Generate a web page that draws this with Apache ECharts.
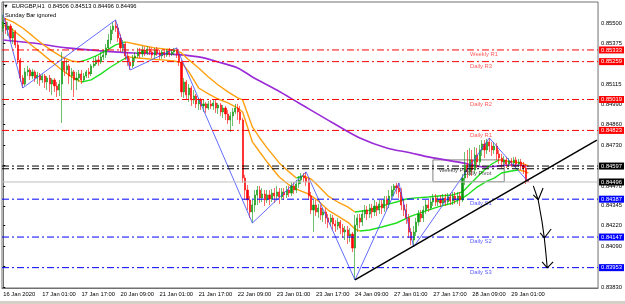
<!DOCTYPE html>
<html>
<head>
<meta charset="utf-8">
<script src="https://cdn.jsdelivr.net/npm/echarts@6.0.0/dist/echarts.min.js"></script>
<style>
  html, body { margin: 0; padding: 0; background: #fff; }
  #main { width: 625px; height: 304px; }
</style>
</head>
<body>
<div id="main"></div>
<script>
// EURGBP H1, 16 Jan 2020 09:00 .. 29 Jan 2020 08:00 (sunday bar ignored)
// one row per hour: [open, close, low, high]
const ohlc = [
  [0.85472,0.85511,0.85447,0.85555],[0.85511,0.85460,0.85434,0.85536],[0.85460,0.85485,0.85422,0.85511],[0.85485,0.85409,0.85384,0.85498],
  [0.85409,0.85447,0.85371,0.85472],[0.85447,0.85365,0.85346,0.85460],[0.85365,0.85270,0.85244,0.85384],[0.85270,0.85155,0.85130,0.85282],
  [0.85155,0.85117,0.85092,0.85174],[0.85117,0.85194,0.85105,0.85219],[0.85194,0.85206,0.85168,0.85232],[0.85206,0.85168,0.85143,0.85219],
  [0.85168,0.85194,0.85149,0.85213],[0.85194,0.85155,0.85130,0.85206],[0.85155,0.85174,0.85117,0.85194],[0.85174,0.85143,0.85105,0.85187],
  [0.85143,0.85168,0.85124,0.85181],[0.85168,0.85130,0.85092,0.85181],[0.85130,0.85155,0.85079,0.85168],[0.85155,0.85117,0.85067,0.85174],
  [0.85117,0.85143,0.85048,0.85155],[0.85143,0.85105,0.85067,0.85155],[0.85105,0.85079,0.85035,0.85130],[0.85079,0.85117,0.85041,0.85143],
  [0.85117,0.85257,0.84870,0.85320],[0.85257,0.85206,0.85168,0.85282],[0.85206,0.85232,0.85181,0.85270],[0.85232,0.85168,0.85117,0.85244],
  [0.85168,0.85194,0.85079,0.85219],[0.85194,0.85143,0.85035,0.85206],[0.85143,0.85155,0.85079,0.85194],[0.85155,0.85181,0.85130,0.85206],
  [0.85181,0.85143,0.85117,0.85206],[0.85143,0.85168,0.85130,0.85187],[0.85168,0.85194,0.85155,0.85206],[0.85194,0.85181,0.85155,0.85219],
  [0.85181,0.85232,0.85168,0.85244],[0.85232,0.85244,0.85219,0.85282],[0.85244,0.85270,0.85232,0.85295],[0.85270,0.85257,0.85232,0.85295],
  [0.85257,0.85289,0.85244,0.85320],[0.85289,0.85301,0.85270,0.85333],[0.85301,0.85346,0.85282,0.85371],[0.85346,0.85396,0.85333,0.85434],
  [0.85396,0.85460,0.85371,0.85485],[0.85460,0.85485,0.85434,0.85511],[0.85485,0.85472,0.85447,0.85523],[0.85472,0.85409,0.85384,0.85498],
  [0.85409,0.85346,0.85320,0.85434],[0.85346,0.85371,0.85320,0.85396],[0.85371,0.85295,0.85270,0.85384],[0.85295,0.85257,0.85232,0.85320],
  [0.85257,0.85232,0.85206,0.85282],[0.85232,0.85282,0.85219,0.85301],[0.85282,0.85295,0.85257,0.85320],[0.85295,0.85320,0.85282,0.85346],
  [0.85320,0.85308,0.85282,0.85346],[0.85308,0.85333,0.85289,0.85358],[0.85333,0.85314,0.85295,0.85352],[0.85314,0.85339,0.85301,0.85358],
  [0.85339,0.85320,0.85301,0.85352],[0.85320,0.85301,0.85282,0.85346],[0.85301,0.85333,0.85282,0.85346],[0.85333,0.85314,0.85295,0.85352],
  [0.85314,0.85295,0.85276,0.85333],[0.85295,0.85320,0.85276,0.85333],[0.85320,0.85301,0.85282,0.85339],[0.85301,0.85327,0.85289,0.85339],
  [0.85327,0.85308,0.85289,0.85346],[0.85308,0.85320,0.85295,0.85339],[0.85320,0.85333,0.85301,0.85346],[0.85333,0.85308,0.85282,0.85346],
  [0.85308,0.85257,0.85232,0.85320],[0.85257,0.85067,0.85035,0.85270],[0.85067,0.85130,0.85029,0.85155],[0.85130,0.85048,0.85016,0.85143],
  [0.85048,0.85092,0.85003,0.85117],[0.85092,0.85016,0.84978,0.85105],[0.85016,0.85041,0.84991,0.85079],[0.85041,0.84991,0.84965,0.85054],
  [0.84991,0.85016,0.84953,0.85029],[0.85016,0.84978,0.84953,0.85029],[0.84978,0.84991,0.84940,0.85016],[0.84991,0.84965,0.84934,0.85003],
  [0.84965,0.84991,0.84953,0.85010],[0.84991,0.84978,0.84959,0.85016],[0.84978,0.84997,0.84953,0.85016],[0.84997,0.84965,0.84934,0.85016],
  [0.84965,0.84984,0.84927,0.84997],[0.84984,0.84940,0.84915,0.84997],[0.84940,0.84965,0.84902,0.84984],[0.84965,0.84927,0.84889,0.84978],
  [0.84927,0.84889,0.84864,0.84953],[0.84889,0.84915,0.84813,0.84940],[0.84915,0.84940,0.84851,0.84965],[0.84940,0.84965,0.84927,0.84991],
  [0.84965,0.84940,0.84889,0.84991],[0.84940,0.84889,0.84864,0.84978],[0.84889,0.84521,0.84490,0.84902],[0.84521,0.84445,0.84382,0.84541],
  [0.84445,0.84382,0.84318,0.84477],[0.84382,0.84306,0.84268,0.84407],[0.84306,0.84350,0.84236,0.84382],[0.84350,0.84414,0.84306,0.84445],
  [0.84414,0.84445,0.84350,0.84471],[0.84445,0.84395,0.84363,0.84471],[0.84395,0.84420,0.84369,0.84458],[0.84420,0.84382,0.84344,0.84445],
  [0.84382,0.84414,0.84363,0.84445],[0.84414,0.84388,0.84350,0.84445],[0.84388,0.84426,0.84369,0.84452],[0.84426,0.84407,0.84363,0.84458],
  [0.84407,0.84433,0.84382,0.84471],[0.84433,0.84401,0.84357,0.84458],[0.84401,0.84433,0.84382,0.84458],[0.84433,0.84414,0.84382,0.84458],
  [0.84414,0.84445,0.84395,0.84471],[0.84445,0.84426,0.84401,0.84471],[0.84426,0.84471,0.84407,0.84496],[0.84471,0.84445,0.84420,0.84496],
  [0.84445,0.84483,0.84426,0.84509],[0.84483,0.84509,0.84458,0.84534],[0.84509,0.84534,0.84483,0.84553],[0.84534,0.84521,0.84496,0.84553],
  [0.84521,0.84496,0.84471,0.84560],[0.84496,0.84407,0.84382,0.84521],[0.84407,0.84318,0.84293,0.84433],[0.84318,0.84350,0.84179,0.84382],
  [0.84350,0.84306,0.84280,0.84382],[0.84306,0.84331,0.84268,0.84357],[0.84331,0.84287,0.84255,0.84350],[0.84287,0.84306,0.84242,0.84331],
  [0.84306,0.84268,0.84230,0.84331],[0.84268,0.84242,0.84204,0.84293],[0.84242,0.84268,0.84217,0.84293],[0.84268,0.84230,0.84192,0.84287],
  [0.84230,0.84217,0.84179,0.84255],[0.84217,0.84242,0.84192,0.84268],[0.84242,0.84204,0.84166,0.84255],[0.84204,0.84179,0.84141,0.84230],
  [0.84179,0.84192,0.84128,0.84217],[0.84192,0.84154,0.84103,0.84217],[0.84154,0.84166,0.84115,0.84204],[0.84166,0.84077,0.84052,0.84179],
  [0.84077,0.84223,0.83875,0.84287],[0.84223,0.84268,0.84179,0.84293],[0.84268,0.84242,0.84204,0.84293],[0.84242,0.84293,0.84217,0.84318],
  [0.84293,0.84318,0.84268,0.84350],[0.84318,0.84293,0.84255,0.84344],[0.84293,0.84331,0.84268,0.84357],[0.84331,0.84306,0.84268,0.84357],
  [0.84306,0.84344,0.84280,0.84382],[0.84344,0.84318,0.84280,0.84369],[0.84318,0.84357,0.84293,0.84382],[0.84357,0.84331,0.84293,0.84382],
  [0.84331,0.84382,0.84306,0.84407],[0.84382,0.84357,0.84318,0.84407],[0.84357,0.84407,0.84331,0.84445],[0.84407,0.84445,0.84382,0.84471],
  [0.84445,0.84471,0.84407,0.84483],[0.84471,0.84458,0.84420,0.84490],[0.84458,0.84433,0.84395,0.84490],[0.84433,0.84350,0.84318,0.84458],
  [0.84350,0.84318,0.84280,0.84382],[0.84318,0.84268,0.84230,0.84357],[0.84268,0.84179,0.84141,0.84293],[0.84179,0.84128,0.84096,0.84204],
  [0.84128,0.84179,0.84084,0.84217],[0.84179,0.84242,0.84154,0.84268],[0.84242,0.84293,0.84217,0.84318],[0.84293,0.84268,0.84242,0.84318],
  [0.84268,0.84318,0.84242,0.84344],[0.84318,0.84350,0.84293,0.84382],[0.84350,0.84331,0.84306,0.84382],[0.84331,0.84369,0.84318,0.84395],
  [0.84369,0.84395,0.84344,0.84420],[0.84395,0.84369,0.84344,0.84420],[0.84369,0.84388,0.84344,0.84407],[0.84388,0.84363,0.84338,0.84414],
  [0.84363,0.84395,0.84344,0.84420],[0.84395,0.84369,0.84344,0.84420],[0.84369,0.84401,0.84350,0.84426],[0.84401,0.84376,0.84350,0.84426],
  [0.84376,0.84407,0.84350,0.84433],[0.84407,0.84382,0.84357,0.84433],[0.84382,0.84407,0.84357,0.84433],[0.84407,0.84382,0.84344,0.84433],
  [0.84382,0.84521,0.84369,0.84547],[0.84521,0.84604,0.84477,0.84686],[0.84604,0.84560,0.84521,0.84699],[0.84560,0.84636,0.84534,0.84712],
  [0.84636,0.84572,0.84534,0.84699],[0.84572,0.84667,0.84547,0.84718],[0.84667,0.84623,0.84585,0.84712],[0.84623,0.84699,0.84598,0.84731],
  [0.84699,0.84737,0.84661,0.84762],[0.84737,0.84699,0.84648,0.84762],[0.84699,0.84750,0.84674,0.84769],[0.84750,0.84724,0.84686,0.84775],
  [0.84724,0.84699,0.84661,0.84750],[0.84699,0.84724,0.84674,0.84750],[0.84724,0.84674,0.84636,0.84743],[0.84674,0.84648,0.84610,0.84699],
  [0.84648,0.84623,0.84585,0.84674],[0.84623,0.84636,0.84598,0.84661],[0.84636,0.84610,0.84585,0.84655],[0.84610,0.84629,0.84591,0.84648],
  [0.84629,0.84617,0.84591,0.84648],[0.84617,0.84636,0.84598,0.84655],[0.84636,0.84610,0.84585,0.84655],[0.84610,0.84623,0.84591,0.84642],
  [0.84623,0.84598,0.84572,0.84642],[0.84598,0.84585,0.84547,0.84623],[0.84585,0.84502,0.84483,0.84610],[0.84506,0.84496,0.84496,0.84513]
];

// empty hours on the right (chart shift)
const shiftBars = 28;

// time labels, one every 16 bars
const timeLabels = ['16 Jan 2020','17 Jan 01:00','17 Jan 17:00','20 Jan 09:00','21 Jan 01:00','21 Jan 17:00','22 Jan 09:00',
  '23 Jan 01:00','23 Jan 17:00','24 Jan 09:00','27 Jan 01:00','27 Jan 17:00','28 Jan 09:00','29 Jan 01:00'];

// price scale labels
const priceTicks = [0.85500,0.85375,0.85245,0.85115,0.84990,0.84860,0.84730,0.84600,0.84470,0.84345,0.84220,0.84090,0.83960,0.83830];

// moving averages, [bar, price]
const maUpper = [[0,0.85536],[4,0.85511],[8,0.85472],[12,0.85422],[16,0.85371],[20,0.85327],[24,0.85289],[28,0.85263],[31,0.85257],
  [34,0.85270],[38,0.85295],[42,0.85327],[46,0.85365],[50,0.85384],[54,0.85371],[58,0.85358],[62,0.85346],[66,0.85339],[70,0.85333],
  [73,0.85314],[76,0.85270],[80,0.85219],[84,0.85162],[88,0.85111],[92,0.85067],[96,0.85029],[98,0.85016],[102,0.84845],[105,0.84775],
  [108,0.84712],[113,0.84617],[117,0.84560],[120,0.84521],[123,0.84534],[126,0.84515],[129,0.84471],[133,0.84407],[137,0.84369],
  [141,0.84338],[144,0.84306],[147,0.84312],[150,0.84318],[154,0.84338],[158,0.84357],[161,0.84369],[165,0.84388],[169,0.84395],
  [174,0.84401],[178,0.84407],[184,0.84414],[188,0.84433],[190,0.84464],[192,0.84496],[194,0.84528],[197,0.84572],[200,0.84610],
  [203,0.84636],[206,0.84629],[209,0.84623],[212,0.84617],[215,0.84598]];
const maLower = [[0,0.85492],[4,0.85460],[8,0.85409],[12,0.85358],[16,0.85308],[20,0.85257],[24,0.85206],[28,0.85162],[32,0.85130],
  [36,0.85143],[40,0.85181],[44,0.85225],[48,0.85263],[51,0.85289],[55,0.85282],[60,0.85276],[65,0.85270],[70,0.85263],[73,0.85251],
  [76,0.85194],[80,0.85092],[84,0.85054],[88,0.85022],[92,0.84997],[96,0.84965],[98,0.84940],[102,0.84750],[105,0.84686],[108,0.84623],
  [113,0.84528],[117,0.84477],[121,0.84445],[125,0.84420],[129,0.84376],[133,0.84318],[137,0.84280],[141,0.84242],[144,0.84198],
  [146,0.84185],[150,0.84192],[155,0.84211],[161,0.84236],[167,0.84280],[174,0.84318],[178,0.84338],[184,0.84363],[188,0.84395],
  [190,0.84414],[194,0.84464],[198,0.84502],[201,0.84521],[204,0.84553],[208,0.84566],[211,0.84572],[213,0.84566],[215,0.84553]];
const maSlow = [[0,0.85396],[12,0.85377],[26,0.85346],[40,0.85327],[53,0.85314],[67,0.85308],[80,0.85289],[88,0.85257],[96,0.85219],
  [102,0.85162],[112,0.85079],[121,0.84997],[135,0.84870],[146,0.84775],[157,0.84712],[167,0.84680],[174,0.84655],[188,0.84617],
  [197,0.84591],[208,0.84604],[215,0.84598]];

// zigzag swing points
const zigzag = [[0,0.85555],[8,0.85092],[46,0.85523],[52,0.85206],[71,0.85346],[102,0.84236],[124,0.84560],[144,0.83875],
  [162,0.84490],[168,0.84084],[199,0.84775],[215,0.84496]];

// pivot levels
const pivotNames = ['Weekly R1','Daily R3','Daily R2','Daily R1','Daily Pivot','Weekly Pivot','Daily S1','Daily S2','Daily S3'];
const pivotValues = [0.85333,0.85259,0.85019,0.84823,0.84580,0.84597,0.84387,0.84147,0.83953];

// drawn objects
const trendLine = [[144,0.83875],[243,0.84761]];
const arrowStroke = [[217.0,0.84471],[219.0,0.84382],[220.6,0.84242],[221.5,0.84141],[222.1,0.84052],[222.7,0.83951]];
const arrowHeads = [
  [[217.0,0.84414],[219.0,0.84382],[221.0,0.84458]],
  [[219.8,0.84173],[221.5,0.84141],[224.3,0.84198]],
  [[220.6,0.83989],[222.7,0.83951],[225.1,0.83989]]
];
const pivotBox = [[175.9,0.84636],[205.1,0.84498]];
const bidPrice = 0.84496;

// -----------------------------------------------------------------
const FONT = 'Liberation Sans';
const FS = 5.8;
const nSlots = ohlc.length + shiftBars;
const cats = [];
for (let i = 0; i < nSlots; i++) cats.push(String(i));

// split a line into rising (green) and falling (orange) pieces
function splitBySlope(pts) {
  const up = [], down = [];
  let last = null;
  for (let k = 1; k < pts.length; k++) {
    const a = pts[k - 1], b = pts[k];
    const dir = b[1] >= a[1] ? 'up' : 'down';
    const arr = dir === 'up' ? up : down;
    if (dir !== last) {
      if (arr.length) arr.push([a[0], '-']);
      arr.push(a);
    }
    arr.push(b);
    last = dir;
  }
  return [up, down];
}

function joinStrokes(list) {
  const out = [];
  list.forEach((s, k) => {
    if (k) out.push([s[0][0], '-']);
    s.forEach(p => out.push(p));
  });
  return out;
}

function levelColor(name) {
  if (/Pivot/.test(name)) return '#000000';
  if (/R\d/.test(name)) return '#FF0000';
  return '#0000FF';
}
const nameBar = { 'Weekly Pivot': 178.6, 'Daily Pivot': 188.8 };

const upperParts = splitBySlope(maUpper);
const lowerParts = splitBySlope(maLower);

function maSeries(data, color) {
  return {
    type: 'line', xAxisIndex: 1, yAxisIndex: 0, data: data, symbol: 'none',
    connectNulls: false, silent: true, z: 2,
    lineStyle: { color: color, width: 1.4 }
  };
}

// a horizontal line across the chart with its price tag on the scale
function hLine(value, color, dash, showTag, tagBg) {
  return {
    type: 'line', xAxisIndex: 1, silent: true, z: 5, symbol: 'none',
    data: [[-0.5, value], [nSlots - 0.5, value]],
    lineStyle: { color: color, width: 1, type: dash },
    endLabel: {
      show: showTag, formatter: value.toFixed(5), distance: 1,
      color: '#fff', backgroundColor: tagBg, fontSize: FS, fontFamily: FONT, padding: [1, 2, 0, 2]
    }
  };
}

const levelSeries = pivotNames.map((n, k) =>
  hLine(pivotValues[k], levelColor(n), [7, 3, 2, 3], n !== 'Daily Pivot', levelColor(n)));
const bidSeries = hLine(bidPrice, '#C0C0C0', 'solid', true, '#000');

const last = ohlc[ohlc.length - 1];
const headText = '\u25BC  EURGBP,H1  ' + [last[0], last[3], last[2], last[1]].map(v => v.toFixed(5)).join(' ');

var myChart = echarts.init(document.getElementById('main'), null, { renderer: 'canvas' });

var option = {
  animation: false,
  backgroundColor: '#ffffff',
  textStyle: { fontFamily: FONT },
  title: [
    { text: headText, left: 3, top: 3, padding: 0,
      textStyle: { fontSize: FS, fontWeight: 'normal', color: '#000', fontFamily: FONT } },
    { text: 'Sunday Bar ignored', left: 5, top: 12, padding: 0,
      textStyle: { fontSize: FS, fontWeight: 'normal', color: '#000', fontFamily: FONT } }
  ],
  grid: { left: 2, right: 25, top: 2, bottom: 16, show: true, borderColor: '#707070', borderWidth: 1 },
  xAxis: [
    {
      type: 'category', data: cats, boundaryGap: true,
      axisLine: { lineStyle: { color: '#707070', width: 1 } },
      axisTick: {
        alignWithLabel: true, length: 2, lineStyle: { color: '#000' },
        interval: i => i % 16 === 0 && i < ohlc.length
      },
      axisLabel: {
        interval: i => i % 16 === 0 && i < ohlc.length,
        formatter: v => timeLabels[Number(v) / 16] || '',
        align: 'left', margin: 3, fontSize: FS, color: '#000', fontFamily: FONT
      },
      splitLine: { show: false }
    },
    { type: 'value', min: -0.5, max: nSlots - 0.5, show: false }
  ],
  yAxis: {
    type: 'value', position: 'right', min: 0.83824, max: 0.85637, scale: true,
    axisLine: { show: true, lineStyle: { color: '#707070', width: 1 } },
    axisTick: { show: true, length: 2, customValues: priceTicks, lineStyle: { color: '#000' } },
    axisLabel: {
      customValues: priceTicks, formatter: v => v.toFixed(5),
      margin: 3, fontSize: FS, color: '#000', fontFamily: FONT
    },
    splitLine: { show: false }
  },
  series: [
    {
      name: 'slow', type: 'line', xAxisIndex: 1, data: maSlow, symbol: 'none', silent: true, z: 2,
      smooth: 0.3, lineStyle: { color: '#9A2BD6', width: 1.6 }
    },
    maSeries(upperParts[0], '#1EE01E'),
    maSeries(upperParts[1], '#FFA010'),
    maSeries(lowerParts[0], '#1EE01E'),
    maSeries(lowerParts[1], '#FFA010'),
    {
      name: 'EURGBP', type: 'candlestick', xAxisIndex: 0, data: ohlc, barWidth: 1.6, silent: true, z: 3,
      itemStyle: { color: '#0A960A', color0: '#FF0000', borderColor: '#0A960A', borderColor0: '#FF0000', borderWidth: 0.6 }
    },
    {
      name: 'zigzag', type: 'line', xAxisIndex: 1, data: zigzag, symbol: 'none', silent: true, z: 4,
      lineStyle: { color: '#3A46FF', width: 0.8 }
    },
    bidSeries
  ].concat(levelSeries).concat([
    {
      name: 'levelNames', type: 'scatter', xAxisIndex: 1, silent: true, z: 6, symbolSize: 1,
      itemStyle: { color: 'transparent' },
      data: pivotNames.map((n, k) => ({
        value: [nameBar[n] !== undefined ? nameBar[n] : 191.3, pivotValues[k]],
        label: {
          show: true, formatter: n, position: [0, 2], align: 'left', verticalAlign: 'top',
          fontSize: FS, fontFamily: FONT,
          color: /Pivot/.test(n) ? '#202020' : (/R\d/.test(n) ? '#FF3030' : '#3030FF')
        }
      }))
    },
    {
      name: 'box', type: 'line', xAxisIndex: 1, data: [], silent: true, z: 6,
      markArea: {
        silent: true,
        itemStyle: { color: 'rgba(0,0,0,0)', borderColor: '#808080', borderWidth: 1 },
        data: [[{ coord: pivotBox[0] }, { coord: pivotBox[1] }]]
      }
    },
    {
      name: 'trend', type: 'line', xAxisIndex: 1, data: trendLine, symbol: 'none', silent: true, z: 7,
      lineStyle: { color: '#000', width: 1.5 }
    },
    {
      name: 'arrow', type: 'line', xAxisIndex: 1, silent: true, z: 7, symbol: 'none',
      data: joinStrokes([arrowStroke].concat(arrowHeads)),
      lineStyle: { color: '#000', width: 1.1 }
    }
  ]),
  graphic: [
    { type: 'rect', left: 0, bottom: 0, shape: { width: 625, height: 3 }, style: { fill: '#D4D0C8' }, silent: true }
  ]
};

myChart.setOption(option);
</script>
</body>
</html>
